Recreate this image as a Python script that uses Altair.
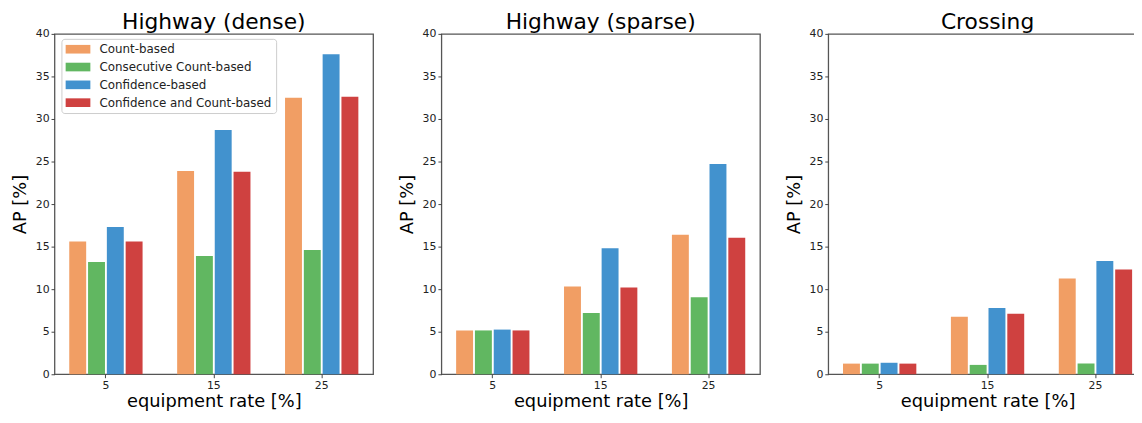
import altair as alt
import pandas as pd

rates = ["5", "15", "25"]
methods = ["Count-based", "Consecutive Count-based", "Confidence-based", "Confidence and Count-based"]
colors = ["#F19E64", "#61B761", "#4292CE", "#CF4140"]
panels = ["Highway (dense)", "Highway (sparse)", "Crossing"]

# values per panel, per method, across rates 5/15/25
dense_count = [15.6, 23.9, 32.5]
dense_consec = [13.2, 13.9, 14.6]
dense_conf = [17.3, 28.7, 37.6]
dense_confcount = [15.6, 23.8, 32.6]

sparse_count = [5.15, 10.3, 16.4]
sparse_consec = [5.15, 7.2, 9.05]
sparse_conf = [5.25, 14.8, 24.7]
sparse_confcount = [5.15, 10.2, 16.05]

cross_count = [1.25, 6.75, 11.25]
cross_consec = [1.25, 1.1, 1.25]
cross_conf = [1.35, 7.8, 13.3]
cross_confcount = [1.25, 7.1, 12.3]

panel_values = {
    "Highway (dense)": [dense_count, dense_consec, dense_conf, dense_confcount],
    "Highway (sparse)": [sparse_count, sparse_consec, sparse_conf, sparse_confcount],
    "Crossing": [cross_count, cross_consec, cross_conf, cross_confcount],
}

FONT = "DejaVu Sans"
SPINE = "#555555"
PLOT_H = 344


def make_panel(name, show_legend):
    rows = []
    for m, vals in zip(methods, panel_values[name]):
        for r, v in zip(rates, vals):
            rows.append({"rate": r, "method": m, "value": v})
    df = pd.DataFrame(rows)
    if show_legend:
        legend = alt.Legend(
            title=None,
            orient="none",
            legendX=7,
            legendY=5,
            symbolType="M-2,-0.7H2V0.7H-2Z",
            symbolSize=156,
            symbolStrokeWidth=0,
            symbolOffset=6.25,
            labelOffset=15.25,
            labelFontSize=12,
            labelFont=FONT,
            labelColor="#222222",
            rowPadding=5,
            padding=4,
            strokeColor="#cccccc",
            fillColor="#ffffff",
            cornerRadius=3,
            labelLimit=300,
        )
    else:
        legend = None
    return (
        alt.Chart(df)
        .mark_bar()
        .encode(
            x=alt.X(
                "rate:N",
                sort=rates,
                scale=alt.Scale(paddingInner=0.303, paddingOuter=0.128),
                axis=alt.Axis(title="equipment rate [%]", labelAngle=0),
            ),
            xOffset=alt.XOffset(
                "method:N", sort=methods, scale=alt.Scale(paddingInner=0.1, paddingOuter=0.05)
            ),
            y=alt.Y(
                "value:Q",
                scale=alt.Scale(domain=[0, 40], nice=False),
                axis=alt.Axis(title="AP [%]", values=list(range(0, 45, 5))),
            ),
            color=alt.Color(
                "method:N", sort=methods, scale=alt.Scale(domain=methods, range=colors), legend=legend
            ),
        )
        .properties(
            width=322,
            height=PLOT_H,
            title=alt.TitleParams(name, fontSize=22, font=FONT, fontWeight="normal", color="#000000", offset=-6),
        )
    )


chart = (
    alt.hconcat(*[make_panel(n, i == 0) for i, n in enumerate(panels)], spacing=23)
    .resolve_legend(color="independent")
    .resolve_scale(color="independent")
    .properties(padding={"left": 2, "top": 0, "right": -14, "bottom": 0})
    .configure_view(stroke=SPINE, strokeWidth=1.3)
    .configure_axis(
        domain=False,
        grid=False,
        tickColor="#444444",
        tickSize=3.5,
        tickWidth=1,
        labelFont=FONT,
        labelFontSize=11,
        labelColor="#222222",
        labelPadding=2,
        titleFont=FONT,
        titleFontSize=18,
        titleFontWeight="normal",
        titleColor="#000000",
    )
    .configure_axisY(titlePadding=6)
    .configure_axisX(titlePadding=2)
)

chart.save("out.html", embed_options={"renderer": "svg", "actions": False})
